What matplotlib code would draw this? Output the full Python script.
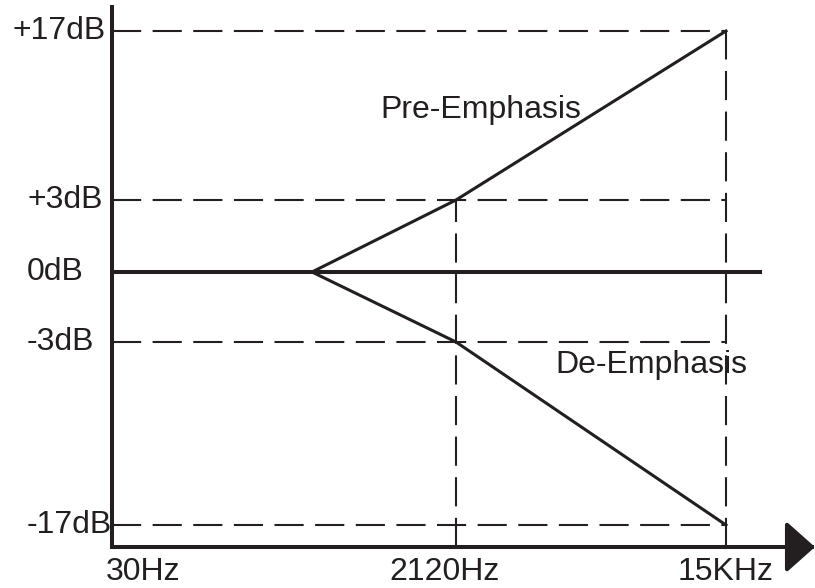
import numpy as np
import matplotlib
matplotlib.use("Agg")
import matplotlib.pyplot as plt
from matplotlib.transforms import ScaledTranslation

# ---- data ----
freq_ticks = [30, 2120, 15000]
freq_labels = ["30Hz", "2120Hz", "15KHz"]
db_ticks = [17, 3, 0, -3, -17]
db_labels = ["+17dB", "+3dB", "0dB", "-3dB", "-17dB"]
corner_freq = 500
curve_freq = [corner_freq, 2120, 15000]
pre_emphasis_db = [0, 3, 17]
de_emphasis_db = [0, -3, -17]

INK = "#231f20"
plt.rcParams["font.family"] = ["Liberation Sans", "DejaVu Sans"]
FS = 23


def piecewise(xp, fp):
    xp = np.asarray(xp, float)
    fp = np.asarray(fp, float)

    def f(v):
        v = np.asarray(v, float)
        out = np.interp(v, xp, fp)
        lo = fp[0] + (v - xp[0]) * (fp[1] - fp[0]) / (xp[1] - xp[0])
        hi = fp[-1] + (v - xp[-1]) * (fp[-1] - fp[-2]) / (xp[-1] - xp[-2])
        out = np.where(v < xp[0], lo, out)
        out = np.where(v > xp[-1], hi, out)
        return out
    return f


# schematic (non-uniform) axis scales
x_anchor_f = [30, corner_freq, 2120, 15000]
x_anchor_u = [0, 200, 344, 614]
y_anchor_d = [-17, -3, 0, 3, 17]
y_anchor_u = [22, 205, 275, 347, 516]
xfwd, xinv = piecewise(x_anchor_f, x_anchor_u), piecewise(x_anchor_u, x_anchor_f)
yfwd, yinv = piecewise(y_anchor_d, y_anchor_u), piecewise(y_anchor_u, y_anchor_d)

fig = plt.figure(figsize=(8.15, 5.88), dpi=100)
ax = fig.add_axes([112 / 815, (588 - 547) / 588, 614 / 815, 516 / 588])
ax.set_xscale("function", functions=(xfwd, xinv))
ax.set_yscale("function", functions=(yfwd, yinv))
ylo = float(yinv(0))
ax.set_xlim(freq_ticks[0], freq_ticks[-1])
ax.set_ylim(ylo, db_ticks[0])
for s in ax.spines.values():
    s.set_visible(False)
ax.set_xticks([])
ax.set_yticks([])

dash_kw = dict(color=INK, lw=1.5, dashes=(14, 5.5), clip_on=False)

# horizontal dashed guides
for d in db_ticks:
    if d == 0:
        continue
    ax.plot([freq_ticks[0], freq_ticks[-1]], [d, d], **dash_kw)
# vertical dashed guides
ax.plot([freq_ticks[1], freq_ticks[1]], [ylo, pre_emphasis_db[1]], **dash_kw)
ax.plot([freq_ticks[2], freq_ticks[2]], [ylo, float(yinv(525))], **dash_kw)

# 0 dB line
ax.plot([freq_ticks[0], float(xinv(650))], [0, 0], color=INK, lw=2.9,
        solid_capstyle="butt", clip_on=False)

# curves
ax.plot(curve_freq, pre_emphasis_db, color=INK, lw=2.2, clip_on=False)
ax.plot(curve_freq, de_emphasis_db, color=INK, lw=2.2, clip_on=False)

# axes lines
ax.plot([freq_ticks[0], freq_ticks[0]], [ylo, float(yinv(540))], color=INK,
        lw=2.9, solid_capstyle="projecting", clip_on=False)
ax.annotate("", xy=(float(xinv(703)), ylo), xytext=(freq_ticks[0], ylo),
            arrowprops=dict(arrowstyle="-|>,head_length=18,head_width=16",
                            mutation_scale=1, lw=2.9, color=INK,
                            shrinkA=0, shrinkB=0, capstyle="projecting"),
            annotation_clip=False)

# y labels
ytr = ax.get_yaxis_transform()
for d, lab in zip(db_ticks, db_labels):
    x0 = (12 - 112) / 614 if lab.startswith("+1") else (27 - 112) / 614
    ax.text(x0, d, lab, transform=ytr, ha="left", va="center",
            fontsize=FS, color=INK)

# x labels
xtr = ax.get_xaxis_transform()
x_offsets = [-6, -11, 0]
x_has = ["left", "center", "center"]
for f, lab, dx, ha in zip(freq_ticks, freq_labels, x_offsets, x_has):
    tr = xtr + ScaledTranslation(dx / 100, 0, fig.dpi_scale_trans)
    ax.text(f, -24.5 / 516, lab, transform=tr, ha=ha, va="center",
            fontsize=FS, color=INK)

fig.text(380 / 815, 1 - 110 / 588, "Pre-Emphasis", ha="left", va="center",
         fontsize=FS, color=INK)
fig.text(555 / 815, 1 - 365 / 588, "De-Emphasis", ha="left", va="center",
         fontsize=FS, color=INK)

fig.savefig("out.png", dpi=100, facecolor="white")
